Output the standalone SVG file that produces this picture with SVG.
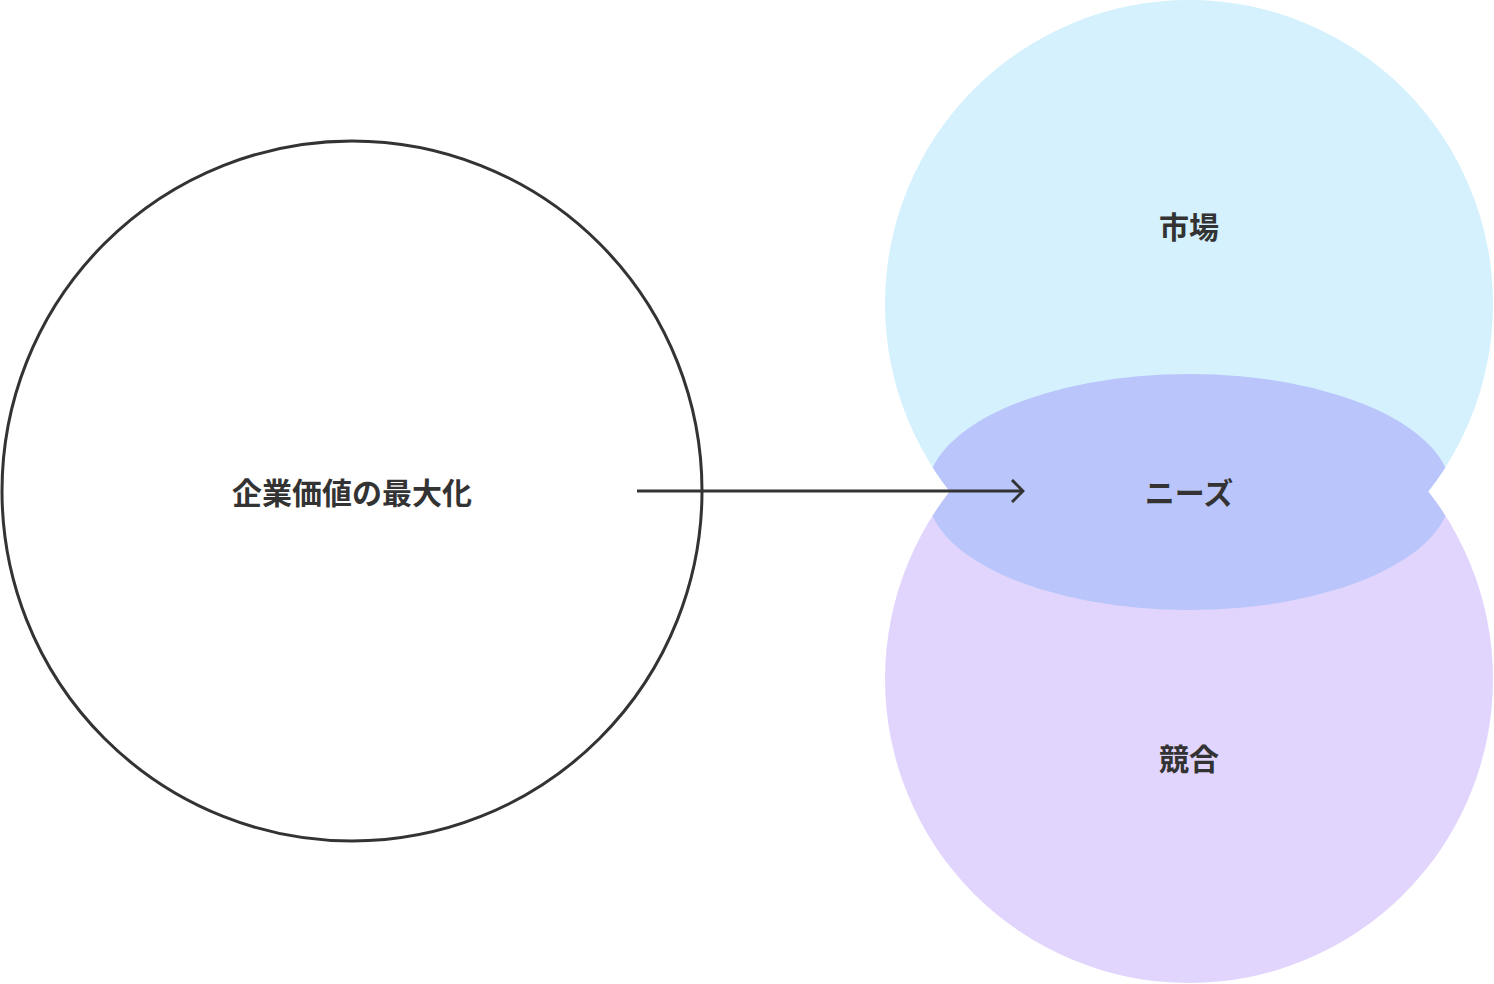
<svg xmlns="http://www.w3.org/2000/svg" width="1494" height="984" viewBox="0 0 1494 984">
<style>
.t{font-family:"Noto Sans CJK JP","Noto Sans",sans-serif;font-weight:bold;font-size:30px;fill:#333;text-anchor:middle;dominant-baseline:central}
</style>
<defs>
<clipPath id="u"><circle cx="1189" cy="304" r="304"/><circle cx="1189" cy="679" r="304"/></clipPath>
<marker id="a" markerWidth="14" markerHeight="24" refX="12" refY="12" orient="auto" markerUnits="userSpaceOnUse"><path d="M1,1 L12,12 L1,23" fill="none" stroke="#333" stroke-width="3"/></marker>
</defs>
<rect width="1494" height="984" fill="#fff"/>
<g id="kigyo"><circle cx="352" cy="491" r="350" fill="#fff" stroke="#333" stroke-width="3"/><text class="t" x="352" y="491">企業価値の最大化</text></g>
<g id="shijo"><circle cx="1189" cy="304" r="304" fill="#d4f1fd"/><text class="t" x="1189" y="225">市場</text></g>
<g id="kyogo"><circle cx="1189" cy="679" r="304" fill="#e2d5fd"/><text class="t" x="1189" y="757">競合</text></g>
<g id="needs"><ellipse cx="1189" cy="492" rx="262" ry="118" fill="#bac6fb" clip-path="url(#u)"/><text class="t" x="1189" y="491">ニーズ</text></g>
<g id="connectors"><line x1="637" y1="491" x2="1023" y2="491" stroke="#333" stroke-width="3" marker-end="url(#a)"/></g>
</svg>
